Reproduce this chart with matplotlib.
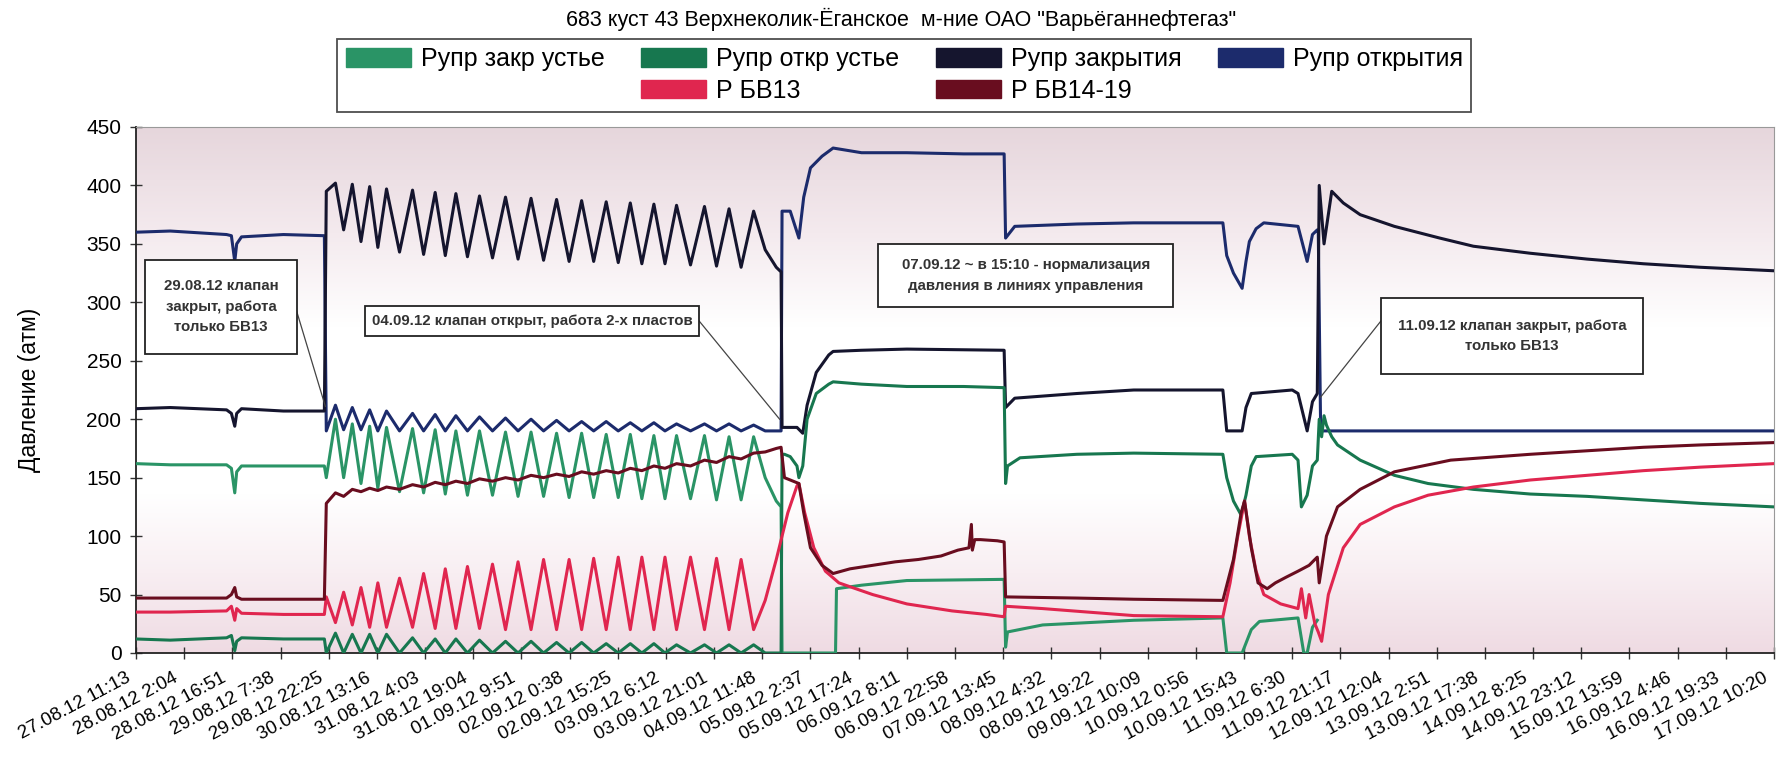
import matplotlib
matplotlib.use('Agg')
import matplotlib.pyplot as plt
from matplotlib.patches import Patch, Rectangle
from matplotlib.colors import LinearSegmentedColormap
from matplotlib.transforms import ScaledTranslation, blended_transform_factory
from matplotlib import font_manager
import numpy as np

# ---------------- data (x in tick units, 0 = first label, 34 = last) ----------------
xLabels = ['27.08.12 11:13', '28.08.12 2:04', '28.08.12 16:51', '29.08.12 7:38', '29.08.12 22:25',
           '30.08.12 13:16', '31.08.12 4:03', '31.08.12 19:04', '01.09.12 9:51', '02.09.12 0:38',
           '02.09.12 15:25', '03.09.12 6:12', '03.09.12 21:01', '04.09.12 11:48', '05.09.12 2:37',
           '05.09.12 17:24', '06.09.12 8:11', '06.09.12 22:58', '07.09.12 13:45', '08.09.12 4:32',
           '08.09.12 19:22', '09.09.12 10:09', '10.09.12 0:56', '10.09.12 15:43', '11.09.12 6:30',
           '11.09.12 21:17', '12.09.12 12:04', '13.09.12 2:51', '13.09.12 17:38', '14.09.12 8:25',
           '14.09.12 23:12', '15.09.12 13:59', '16.09.12 4:46', '16.09.12 19:33', '17.09.12 10:20']

title = '683 куст 43 Верхнеколик-Ёганское  м-ние ОАО "Варьёганнефтегаз"'
names = ['Рупр закр устье', 'Рупр откр устье', 'Рупр закрытия', 'Рупр открытия', 'Р БВ13', 'Р БВ14-19']

# cycling period 29.08 - 04.09
oscStartX  = 3.95
oscPeakX   = [4.14, 4.49, 4.85, 5.20, 5.74, 6.21, 6.64, 7.13, 7.67, 8.20, 8.73, 9.25, 9.76, 10.26,
              10.75, 11.22, 11.80, 12.31, 12.82]
oscTroughX = [4.31, 4.67, 5.02, 5.47, 5.97, 6.42, 6.88, 7.40, 7.93, 8.46, 8.99, 9.50, 10.01, 10.50,
              10.98, 11.51, 12.05, 12.56]

preX   = [0, 0.71, 1.88, 1.98, 2.05, 2.09, 2.19, 3.06, 3.91]

# Рупр открытия
otkrPre    = [360, 361, 358, 357, 335, 350, 356, 358, 357]
otkrStart  = 190
otkrPeak   = [212, 210, 208, 207, 205, 204, 203, 202, 201, 200, 199, 198, 198, 197, 197, 196, 196, 196, 195]
otkrTrough = [191, 191, 190, 190, 190, 190, 190, 190, 190, 190, 190, 190, 190, 190, 190, 190, 190, 190]
otkrPostX  = [13.06, 13.39, 13.41, 13.58, 13.76, 13.86, 14.00, 14.24, 14.47, 15.06, 16.00, 17.18, 18.02,
              18.05, 18.24, 19.53, 20.71, 22.56, 22.64, 22.78, 22.96, 23.04, 23.11, 23.25, 23.41, 24.12,
              24.31, 24.42, 24.52, 24.54, 24.59, 34.0]
otkrPostY  = [190, 190, 378, 378, 355, 390, 415, 425, 432, 428, 428, 427, 427,
              355, 365, 367, 368, 368, 340, 325, 312, 335, 352, 363, 368, 365,
              335, 358, 362, 362, 190, 190]

# Рупр закрытия
zakrPre    = [209, 210, 208, 205, 194, 205, 209, 207, 207]
zakrStart  = 395
zakrPeak   = [402, 401, 399, 397, 396, 394, 393, 391, 390, 389, 388, 387, 386, 385, 384, 383, 382, 380, 378]
zakrTrough = [362, 352, 347, 343, 341, 340, 339, 338, 337, 336, 335, 335, 334, 333, 333, 332, 331, 330]
zakrPostX  = [13.06, 13.29, 13.39, 13.41, 13.72, 13.84, 13.93, 14.12, 14.38, 14.47, 15.06, 16.00, 18.02,
              18.05, 18.24, 19.53, 20.71, 22.56, 22.64, 22.96, 23.04, 23.15, 24.00, 24.12, 24.31, 24.42,
              24.52, 24.56, 24.66, 24.82, 25.06, 25.41, 26.12, 27.06, 27.76, 28.94, 30.12, 31.29, 32.47, 34.0]
zakrPostY  = [345, 330, 326, 193, 193, 188, 212, 240, 255, 258, 259, 260, 259,
              210, 218, 222, 225, 225, 190, 190, 210, 222, 225, 222, 190, 215,
              222, 400, 350, 395, 385, 375, 365, 355, 348, 342, 337, 333, 330, 327]

# Рупр закр устье
zuPre      = [162, 161, 161, 158, 137, 155, 160, 160, 160]
zuStart    = 150
zuPeak     = [200, 196, 194, 193, 192, 191, 190, 190, 189, 189, 188, 188, 187, 187, 186, 186, 186, 185, 185]
zuTrough   = [150, 145, 141, 138, 137, 136, 135, 135, 134, 134, 133, 133, 133, 132, 132, 132, 131, 131]
zuPostX    = [13.06, 13.29, 13.39, 13.41, 14.52, 14.54, 15.06, 16.00, 18.02, 18.05, 18.09, 18.82, 20.71,
              22.56, 22.64, 22.96, 23.15, 23.32, 24.12, 24.24, 24.31, 24.42, 24.52]
zuPostY    = [150, 130, 125, 0, 0, 55, 58, 62, 63, 5, 18, 24, 28,
              30, 0, 0, 20, 27, 30, 0, 0, 22, 28]

# Рупр откр устье
ouPre      = [12, 11, 13, 15, 2, 10, 13, 12, 12]
ouStart    = 0
ouPeak     = [17, 16, 16, 16, 13, 12, 12, 11, 10, 10, 9, 9, 8, 8, 8, 7, 7, 7, 7]
ouTrough   = [0, 0, 0, 0, 0, 0, 0, 0, 0, 0, 0, 0, 0, 0, 0, 0, 0, 0]
ouPostX    = [13.06, 13.39, 13.41, 13.46, 13.58, 13.72, 13.76, 13.84, 13.93, 14.12, 14.38, 14.47, 15.06,
              16.00, 17.18, 18.02, 18.05, 18.09, 18.35, 19.53, 20.71, 22.56, 22.64, 22.78, 22.94, 23.04,
              23.15, 23.25, 24.00, 24.12, 24.19, 24.31, 24.42, 24.52, 24.56, 24.61, 24.66, 24.71, 24.82,
              24.94, 25.41, 26.12, 26.82, 27.76, 28.94, 30.12, 31.29, 32.47, 34.0]
ouPostY    = [0, 0, 170, 170, 168, 160, 150, 160, 200, 222, 230, 232, 230,
              228, 228, 227, 145, 160, 167, 170, 171, 170, 150, 130, 118, 135,
              160, 168, 170, 165, 125, 135, 160, 165, 200, 185, 203, 195, 185,
              178, 165, 152, 145, 140, 136, 134, 131, 128, 125]

# Р БВ13
bv13Pre    = [35, 35, 36, 40, 28, 38, 34, 33, 33]
bv13Start  = 48
bv13Peak   = [26, 24, 22, 22, 22, 21, 21, 21, 20, 20, 20, 20, 20, 20, 20, 20, 20, 20, 20]
bv13Trough = [52, 56, 60, 64, 68, 72, 74, 76, 78, 80, 80, 81, 82, 82, 82, 82, 81, 80]
bv13PostX  = [13.06, 13.29, 13.53, 13.72, 13.76, 13.88, 14.07, 14.31, 14.59, 15.29, 16.00, 16.94, 17.65,
              18.02, 18.05, 18.82, 19.76, 20.71, 22.56, 22.71, 22.87, 23.01, 23.11, 23.25, 23.41, 23.76,
              24.12, 24.19, 24.28, 24.35, 24.47, 24.54, 24.61, 24.75, 25.06, 25.41, 26.12, 26.82, 27.76,
              28.94, 30.12, 31.29, 32.47, 34.0]
bv13PostY  = [45, 80, 120, 143, 145, 120, 90, 70, 60, 50, 42, 36, 33,
              31, 40, 38, 35, 32, 31, 60, 100, 130, 100, 70, 50, 42,
              38, 55, 30, 50, 25, 18, 10, 50, 90, 110, 125, 135, 142,
              148, 152, 156, 159, 162]

# Р БВ14-19
bv14Pre    = [47, 47, 47, 50, 56, 48, 46, 46, 46]
bv14Start  = 128
bv14Peak   = [137, 140, 141, 142, 144, 146, 147, 149, 150, 152, 153, 155, 156, 158, 160, 162, 165, 168, 171]
bv14Trough = [134, 138, 139, 140, 142, 144, 145, 147, 148, 150, 151, 153, 154, 156, 158, 160, 163, 166]
bv14PostX  = [13.06, 13.29, 13.39, 13.46, 13.76, 13.86, 14.00, 14.24, 14.47, 14.82, 15.29, 15.76, 16.24,
              16.71, 17.06, 17.29, 17.34, 17.36, 17.41, 17.53, 17.88, 18.02, 18.05, 19.53, 20.71, 22.56,
              22.78, 22.94, 23.01, 23.15, 23.29, 23.48, 23.65, 23.88, 24.12, 24.35, 24.47, 24.52, 24.56,
              24.71, 24.94, 25.41, 26.12, 27.29, 28.94, 30.12, 31.29, 32.47, 34.0]
bv14PostY  = [172, 175, 176, 150, 145, 120, 90, 75, 68, 72, 75, 78, 80,
              83, 88, 90, 110, 88, 97, 97, 96, 95, 48, 47, 46, 45,
              80, 120, 130, 90, 60, 55, 60, 65, 70, 75, 80, 82, 60,
              100, 125, 140, 155, 165, 170, 173, 176, 178, 180]

colors = {'Рупр закр устье': '#2a9466', 'Рупр откр устье': '#17774f', 'Рупр закрытия': '#15152e',
          'Рупр открытия': '#1c2b6c', 'Р БВ13': '#e0264f', 'Р БВ14-19': '#690d1f'}


def buildSeries(pre, start, atPeak, atTrough, postX, postY):
    x = list(preX) + [oscStartX]
    y = list(pre) + [start]
    for i in range(len(oscPeakX)):
        x.append(oscPeakX[i]); y.append(atPeak[i])
        if i < len(oscTroughX):
            x.append(oscTroughX[i]); y.append(atTrough[i])
    return x + list(postX), y + list(postY)


series = {
    'Рупр открытия':   buildSeries(otkrPre, otkrStart, otkrPeak, otkrTrough, otkrPostX, otkrPostY),
    'Рупр закрытия':   buildSeries(zakrPre, zakrStart, zakrPeak, zakrTrough, zakrPostX, zakrPostY),
    'Рупр закр устье': buildSeries(zuPre, zuStart, zuPeak, zuTrough, zuPostX, zuPostY),
    'Рупр откр устье': buildSeries(ouPre, ouStart, ouPeak, ouTrough, ouPostX, ouPostY),
    'Р БВ13':          buildSeries(bv13Pre, bv13Start, bv13Peak, bv13Trough, bv13PostX, bv13PostY),
    'Р БВ14-19':       buildSeries(bv14Pre, bv14Start, bv14Peak, bv14Trough, bv14PostX, bv14PostY),
}

# ---------------- fonts ----------------
available = {f.name for f in font_manager.fontManager.ttflist}
narrow = 'Liberation Sans Narrow' if 'Liberation Sans Narrow' in available else 'Liberation Sans'
plt.rcParams['font.family'] = ['Liberation Sans', 'DejaVu Sans']

# ---------------- figure ----------------
fig = plt.figure(figsize=(17.77, 7.82), dpi=100)
ax = fig.add_axes([136/1777, 1-653/782, (1774-136)/1777, (653-127)/782])

# background gradient of the plot area
bg = LinearSegmentedColormap.from_list('bg', [(0.0, '#efdbe3'), (0.15, '#f8eef2'), (0.3, '#ffffff'),
                                              (0.62, '#ffffff'), (0.8, '#f4eaee'), (1.0, '#e6d6dc')])
ax.imshow(np.linspace(0, 1, 256).reshape(-1, 1), extent=[0, 34, 0, 450], origin='lower',
          aspect='auto', cmap=bg, zorder=0)

for name in ['Рупр открытия', 'Рупр закрытия', 'Рупр закр устье', 'Рупр откр устье', 'Р БВ13', 'Р БВ14-19']:
    x, y = series[name]
    ax.plot(x, y, color=colors[name], lw=2.2, solid_joinstyle='round', zorder=3)

ax.set_xlim(0, 34)
ax.set_ylim(0, 450)
ax.set_xticks(range(len(xLabels)))
ax.set_xticklabels([])
# date labels, slanted, with their upper right end just left of each tick
labTrans = blended_transform_factory(ax.transData, ax.transAxes) + \
    ScaledTranslation(-8/72, -12/72, fig.dpi_scale_trans)
for i, lab in enumerate(xLabels):
    ax.text(i, 0, lab, transform=labTrans, rotation=28, ha='right', va='top',
            rotation_mode='anchor', fontsize=13.5, clip_on=False)
ax.set_yticks(range(0, 451, 50))
ax.tick_params(axis='x', direction='inout', length=9, width=1, color='#333333')
ax.tick_params(axis='y', direction='inout', length=9, width=1, labelsize=15, pad=6, color='#333333')
ax.set_ylabel('Давление (атм)', fontsize=16.5)
ax.yaxis.set_label_coords(-0.058, 0.5)
for s in ['left', 'bottom']:
    ax.spines[s].set_color('#222222'); ax.spines[s].set_linewidth(1.3)
for s in ['top', 'right']:
    ax.spines[s].set_color('#999999'); ax.spines[s].set_linewidth(0.8)

# annotation boxes (x in tick units, y in atm)
notes = [
    ('29.08.12 клапан\nзакрыт, работа\nтолько БВ13', (0.19, 256, 3.15, 80.6), (3.25, 304), (3.93, 211)),
    ('04.09.12 клапан открыт, работа 2-х пластов', (4.75, 271.6, 6.94, 25.2), (11.69, 284), (13.36, 200)),
    ('07.09.12 ~ в 15:10 - нормализация\nдавления в линиях управления', (15.41, 295.8, 6.12, 54.2), None, None),
    ('11.09.12 клапан закрыт, работа\nтолько БВ13', (25.84, 238.6, 5.45, 65.0), (25.84, 284), (24.59, 219)),
]
for text, (bx, by, bw, bh), p0, p1 in notes:
    ax.add_patch(Rectangle((bx, by), bw, bh, facecolor='white', edgecolor='#222222', lw=1.3, zorder=5))
    ax.text(bx + bw/2, by + bh/2, text, ha='center', va='center', fontsize=10.8, fontweight='bold',
            family=[narrow, 'DejaVu Sans'], color='#333333', linespacing=1.6, zorder=6)
    if p0 is not None:
        ax.plot([p0[0], p1[0]], [p0[1], p1[1]], color='#444444', lw=0.9, zorder=4)

fig.text(0.507, 0.975, title, ha='center', va='center', fontsize=15.5, family=[narrow, 'DejaVu Sans'])

blank = Patch(facecolor='none', edgecolor='none')
h = {n: Patch(facecolor=colors[n], edgecolor=colors[n]) for n in names}
handles = [h['Рупр закр устье'], blank, h['Рупр откр устье'], h['Р БВ13'],
           h['Рупр закрытия'], h['Р БВ14-19'], h['Рупр открытия'], blank]
labels = ['Рупр закр устье', '', 'Рупр откр устье', 'Р БВ13', 'Рупр закрытия', 'Р БВ14-19', 'Рупр открытия', '']
leg = fig.legend(handles, labels, loc='center', bbox_to_anchor=(0.509, 0.904), ncol=4, frameon=True,
                 fancybox=False, edgecolor='#222222', handlelength=2.6, handleheight=0.75,
                 handletextpad=0.4, columnspacing=1.45, borderpad=0.35, labelspacing=0.3,
                 prop={'family': [narrow, 'DejaVu Sans'], 'size': 18})
leg.get_frame().set_linewidth(1.3)

fig.savefig('out.png', dpi=100)
